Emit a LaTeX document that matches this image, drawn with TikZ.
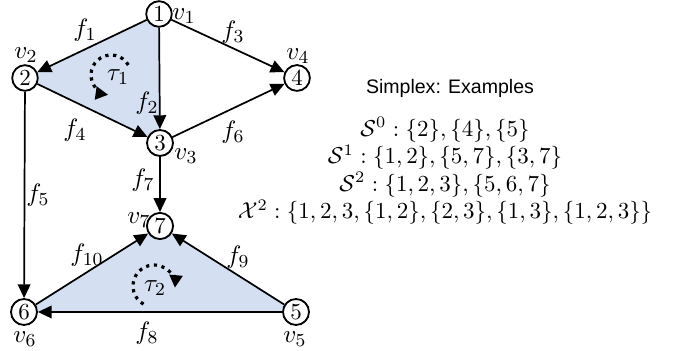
\documentclass[tikz,border=0pt]{standalone}
\usepackage{amsmath}
\usepackage{fontspec}
\setsansfont{Liberation Sans}
\usetikzlibrary{arrows.meta}
\definecolor{faceblue}{RGB}{212,224,242}
\tikzset{
  vtx/.style={circle, draw, line width=0.8pt, inner sep=1pt, minimum size=11pt, fill=white},
  edge/.style={-{Triangle[length=6pt,width=5.5pt]}, line width=0.75pt},
  lbl/.style={inner sep=0pt, font=\fontsize{11}{13}\selectfont},
  orient/.style={line width=1.4pt, dotted, -{Triangle[length=5.5pt,width=5.5pt]}}
}
\begin{document}
\begin{tikzpicture}[x=0.435pt, y=0.435pt]
        \useasboundingbox (0,0) rectangle (681,351);

        % vertex positions
        \coordinate (p1) at (159,337);
        \coordinate (p2) at (25,273);
        \coordinate (p3) at (160,208);
        \coordinate (p4) at (297,273);
        \coordinate (p5) at (296,39);
        \coordinate (p6) at (24,39);
        \coordinate (p7) at (160,125);

        % 2-simplices (filled faces)
        \fill[faceblue] (p1) -- (p2) -- (p3) -- cycle;
        \fill[faceblue] (p7) -- (p6) -- (p5) -- cycle;

        % vertices
        \node[vtx] (n1) at (p1) {1};
        \node[vtx] (n2) at (p2) {2};
        \node[vtx] (n3) at (p3) {3};
        \node[vtx] (n4) at (p4) {4};
        \node[vtx] (n5) at (p5) {5};
        \node[vtx] (n6) at (p6) {6};
        \node[vtx] (n7) at (p7) {7};

        \node[lbl] (v1) at (184,335) {$v_1$};
        \node[lbl] (v2) at (26,296) {$v_2$};
        \node[lbl] (v3) at (186,195) {$v_3$};
        \node[lbl] (v4) at (298,295) {$v_4$};
        \node[lbl] (v5) at (295,12) {$v_5$};
        \node[lbl] (v6) at (25,12) {$v_6$};
        \node[lbl] (v7) at (139,131) {$v_7$};

        % oriented edges
        \draw[edge] (n1) -- (n2);
        \draw[edge] (n1) -- (n3);
        \draw[edge] (n1) -- (n4);
        \draw[edge] (n2) -- (n3);
        \draw[edge] (n3) -- (n4);
        \draw[edge] (n2) -- (n6);
        \draw[edge] (n3) -- (n7);
        \draw[edge] (n5) -- (n6);
        \draw[edge] (n5) -- (n7);
        \draw[edge] (n6) -- (n7);

        \node[lbl] (f1) at (85,321) {$f_1$};
        \node[lbl] (f2) at (147,248) {$f_2$};
        \node[lbl] (f3) at (233,319) {$f_3$};
        \node[lbl] (f4) at (75,221) {$f_4$};
        \node[lbl] (f5) at (38,156) {$f_5$};
        \node[lbl] (f6) at (233,219) {$f_6$};
        \node[lbl] (f7) at (143,171) {$f_7$};
        \node[lbl] (f8) at (147,18) {$f_8$};
        \node[lbl] (f9) at (238,94) {$f_9$};
        \node[lbl] (f10) at (87,96) {$f_{10}$};

        % orientation of the faces
        \draw[orient] (111,276) ++(30:20) arc[start angle=30, end angle=262, radius=20];
        \node[lbl] (t1) at (118,274) {$\tau_1$};
        \draw[orient] (154,65) ++(240:21) arc[start angle=240, end angle=-5, radius=21];
        \node[lbl] (t2) at (155,63) {$\tau_2$};

        % examples
        \node[font=\sffamily\fontsize{8.5}{10}\selectfont] (title) at (450,263) {Simplex: Examples};
        \node[align=center, inner sep=0pt] (sets) at (445,180) {%
          $\mathcal{S}^0 : \{2\}, \{4\}, \{5\}$\\
          $\mathcal{S}^1 : \{1,2\}, \{5,7\}, \{3,7\}$\\
          $\mathcal{S}^2 : \{1,2,3\}, \{5,6,7\}$\\
          $\mathcal{X}^2 : \{1,2,3,\{1,2\},\{2,3\},\{1,3\},\{1,2,3\}\}$};
\end{tikzpicture}
\end{document}
